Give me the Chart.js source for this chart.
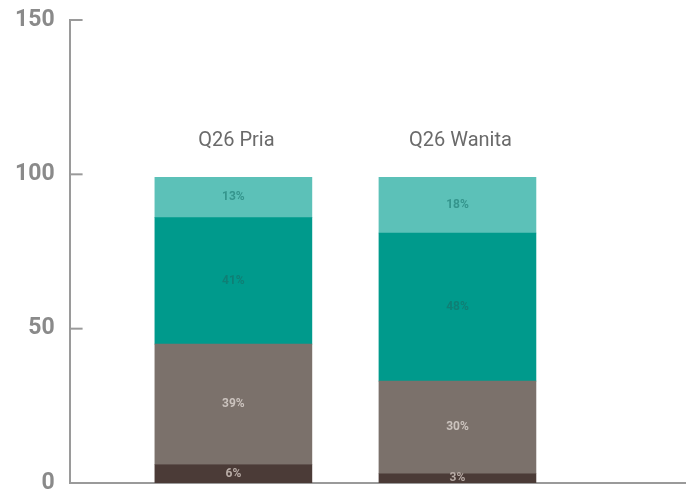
<!DOCTYPE html>
<html>
<head>
<meta charset="utf-8">
<script src="https://cdn.jsdelivr.net/npm/chart.js@4.4.1/dist/chart.umd.min.js"></script>
<style>
  html, body { margin: 0; padding: 0; background: #fff; }
  #wrap { width: 686px; height: 493px; }
</style>
</head>
<body>
<div id="wrap"><canvas id="chart"></canvas></div>
<script>
const categories = ['Q26 Pria', 'Q26 Wanita'];
const positions = [1, 2];
const seriesNames = ['S1', 'S2', 'S3', 'S4'];
const bottomValues = [6, 3];
const lowerValues = [39, 30];
const upperValues = [41, 48];
const topValues = [13, 18];
const yTicks = [0, 50, 100, 150];

const seriesValues = [bottomValues, lowerValues, upperValues, topValues];
const fills = ['#4b3b37', '#7b716b', '#009a8c', '#5cc1b8'];
const labelColors = ['#b8aca6', '#cbc3be', '#0f7f75', '#35958d'];

const segmentLabels = {
  id: 'segmentLabels',
  afterDatasetsDraw(chart) {
    const ctx = chart.ctx;
    ctx.save();
    ctx.textAlign = 'center';
    ctx.textBaseline = 'middle';
    ctx.font = 'bold 12px "Roboto"';
    chart.data.datasets.forEach((ds, i) => {
      chart.getDatasetMeta(i).data.forEach((bar, j) => {
        const mid = (bar.y + bar.base) / 2;
        ctx.fillStyle = labelColors[i];
        ctx.fillText(ds.data[j].y + '%', bar.x, mid);
      });
    });
    // category names above each stack
    const last = chart.getDatasetMeta(chart.data.datasets.length - 1).data;
    ctx.font = '20px "Roboto"';
    ctx.fillStyle = '#6a6a6a';
    last.forEach((bar, j) => {
      ctx.fillText(categories[j], bar.x + 3, bar.y - 36);
    });
    // short tick marks inside the y axis
    const ys = chart.scales.y;
    ctx.strokeStyle = '#9a9a9a';
    ctx.lineWidth = 2;
    yTicks.forEach(v => {
      const py = ys.getPixelForValue(v);
      ctx.beginPath();
      ctx.moveTo(ys.right, py);
      ctx.lineTo(ys.right + 13, py);
      ctx.stroke();
    });
    ctx.restore();
  }
};

new Chart(document.getElementById('chart'), {
  type: 'bar',
  data: {
    datasets: seriesValues.map((vals, i) => ({
      label: seriesNames[i],
      data: vals.map((v, j) => ({ x: positions[j], y: v })),
      backgroundColor: fills[i],
      borderWidth: 0,
      barThickness: 157
    }))
  },
  options: {
    responsive: true,
    maintainAspectRatio: false,
    animation: false,
    layout: { padding: { top: 20, right: 0, bottom: 10, left: 0 } },
    plugins: { legend: { display: false }, tooltip: { enabled: false } },
    scales: {
      x: {
        type: 'linear',
        stacked: true,
        offset: false,
        min: 0.269,
        max: 3.02,
        ticks: { display: false },
        grid: { display: false, drawTicks: false },
        border: { display: true, color: '#9a9a9a', width: 2 }
      },
      y: {
        stacked: true,
        min: 0,
        max: 150,
        afterBuildTicks: (scale) => { scale.ticks = yTicks.map(v => ({ value: v })); },
        afterFit: (scale) => { scale.paddingTop = 0; scale.paddingBottom = 0; },
        ticks: {
          color: '#8a8a8a',
          padding: 15,
          font: { family: 'Roboto', weight: 'bold', size: 23 }
        },
        grid: { display: false, drawTicks: false },
        border: { display: true, color: '#9a9a9a', width: 2 }
      }
    }
  },
  plugins: [segmentLabels]
});
</script>
</body>
</html>
